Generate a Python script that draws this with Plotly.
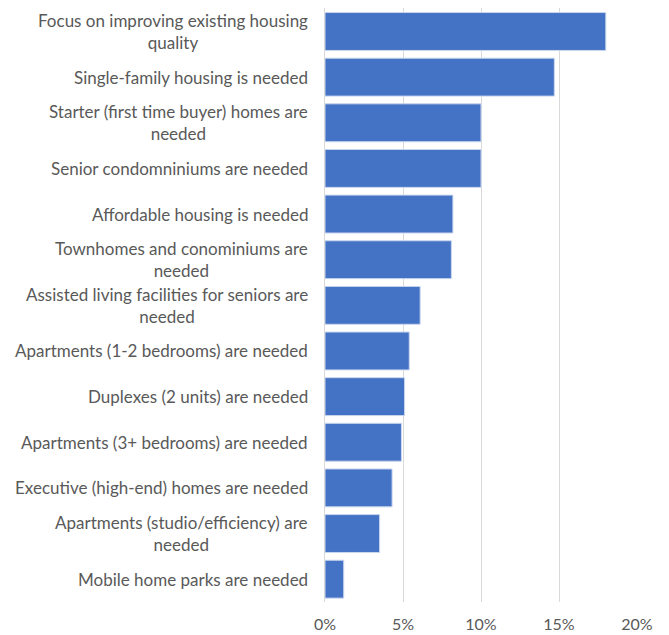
import plotly.graph_objects as go

# Survey responses, top to bottom as shown
categories = [
    "Focus on improving existing housing<br>quality",
    "Single-family housing is needed",
    "Starter (first time buyer) homes are<br>needed",
    "Senior condomniniums are needed",
    "Affordable housing is needed",
    "Townhomes and conominiums are<br>needed",
    "Assisted living facilities for seniors are<br>needed",
    "Apartments (1-2 bedrooms) are needed",
    "Duplexes (2 units) are needed",
    "Apartments (3+ bedrooms) are needed",
    "Executive (high-end) homes are needed",
    "Apartments (studio/efficiency) are<br>needed",
    "Mobile home parks are needed",
]
shares = [0.180, 0.147, 0.100, 0.100, 0.082, 0.081, 0.061, 0.054, 0.051, 0.049, 0.043, 0.035, 0.012]
tick_vals = [0, 0.05, 0.10, 0.15, 0.20]
tick_text = ["0%", "5%", "10%", "15%", "20%"]

grey = "#595959"

fig = go.Figure(go.Bar(
    x=shares, y=categories, orientation="h",
    marker_color="#4472C4",
    marker_line=dict(color="#c9d6ee", width=1),
))

# category labels as annotations so wrapped lines are centred like the original
for cat in categories:
    fig.add_annotation(
        x=0, xref="paper", y=cat, yref="y",
        text=cat, showarrow=False,
        xanchor="right", align="center", xshift=-15,
        font=dict(family="Lato, Open Sans, sans-serif", size=17, color=grey),
    )

# page body adds an 8px margin, so the figure is sized to fit the window
fig.update_layout(
    width=661, height=627,
    margin=dict(l=317, r=32, t=0, b=33),
    plot_bgcolor="white", paper_bgcolor="white",
    font=dict(family="Lato, Open Sans, sans-serif", size=16, color=grey),
    bargap=0.17,
    showlegend=False,
)
fig.update_xaxes(
    range=[0, 0.20], tickvals=tick_vals, ticktext=tick_text,
    showgrid=True, gridcolor="#d9d9d9", gridwidth=1,
    zeroline=False, showline=False, ticks="", automargin=False,
    ticklabelstandoff=11,
)
fig.update_yaxes(
    categoryorder="array", categoryarray=categories, autorange="reversed",
    showgrid=False, zeroline=False, showline=True, linecolor="#d9d9d9",
    ticks="", showticklabels=False, automargin=False,
)

fig.write_html("out.html")
